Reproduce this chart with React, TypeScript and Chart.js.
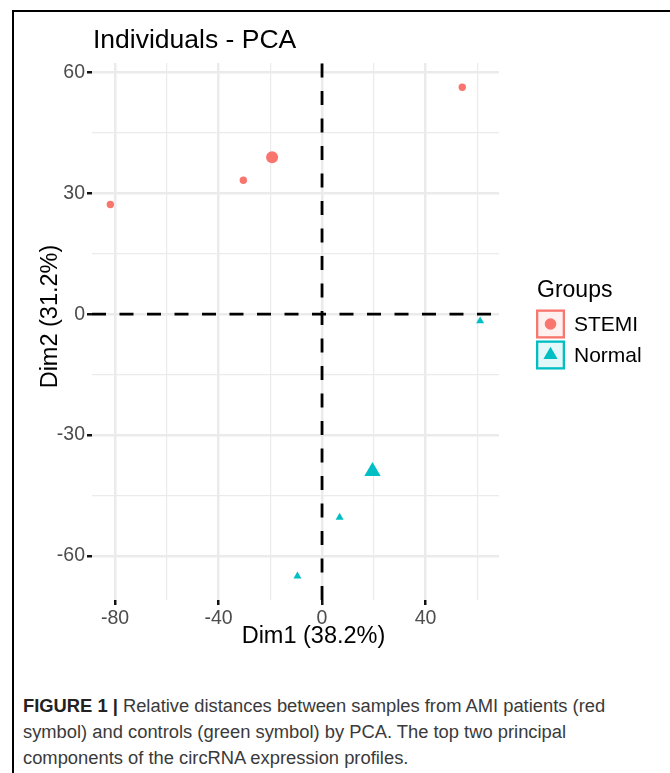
import React, { useEffect, useRef } from 'react';
import { Chart, registerables } from 'chart.js';

Chart.register(...registerables);

// ---- data ----
const groupNames = ['STEMI', 'Normal'];
const groupColors = ['#F8766D', '#00BFC4'];
const groupShapes = ['circle', 'triangle'];

const stemiDim1 = [-81.8, -30.4, 54.2];
const stemiDim2 = [27.2, 33.2, 56.3];
const normalDim1 = [61.1, 6.8, -9.5];
const normalDim2 = [-1.7, -50.4, -65.0];
// group centroids (mean points)
const meanDim1 = [-19.3, 19.5];
const meanDim2 = [38.9, -39.0];

const xMajorTicks = [-80, -40, 0, 40];
const xMinorTicks = [-60, -20, 20, 60];
const yMajorTicks = [-60, -30, 0, 30, 60];
const yMinorTicks = [-45, -15, 15, 45];
const xRange = [-88.9, 68.4];
const yRange = [-70.9, 62.3];
const refLineValue = 0;

const chartTitle = 'Individuals - PCA';
const xTitle = 'Dim1 (38.2%)';
const yTitle = 'Dim2 (31.2%)';
const legendTitle = 'Groups';

const FONT = '"Liberation Sans", Arial, Helvetica, sans-serif';

function hexAlpha(hex: string, a: number) {
  const r = parseInt(hex.slice(1, 3), 16);
  const g = parseInt(hex.slice(3, 5), 16);
  const b = parseInt(hex.slice(5, 7), 16);
  return `rgba(${r},${g},${b},${a})`;
}

const decorPlugin = {
  id: 'ggDecor',
  afterDraw(chart: any) {
    const { ctx, chartArea } = chart;
    ctx.save();
    // title
    ctx.fillStyle = '#000';
    ctx.textAlign = 'left';
    ctx.textBaseline = 'alphabetic';
    ctx.font = `26.5px ${FONT}`;
    ctx.fillText(chartTitle, chartArea.left + 1, chartArea.top - 15.5);

    // x title
    ctx.font = `23.5px ${FONT}`;
    ctx.textAlign = 'center';
    ctx.fillText(xTitle, 313.5, 643);

    // y title
    ctx.save();
    ctx.translate(56.5, 316.5);
    ctx.rotate(-Math.PI / 2);
    ctx.textAlign = 'center';
    ctx.fillText(yTitle, 0, 0);
    ctx.restore();

    // legend
    ctx.textAlign = 'left';
    ctx.font = `23px ${FONT}`;
    ctx.fillText(legendTitle, 537, 297);
    groupNames.forEach((name, i) => {
      const bx = 536;
      const by = 309.5 + i * 31;
      const size = 29;
      const col = groupColors[i];
      ctx.fillStyle = hexAlpha(col, 0.1);
      ctx.fillRect(bx, by, size, size);
      ctx.strokeStyle = col;
      ctx.lineWidth = 2.3;
      ctx.strokeRect(bx + 1.15, by + 1.15, size - 2.3, size - 2.3);
      const cx = bx + size / 2;
      const cy = by + size / 2;
      ctx.fillStyle = col;
      ctx.beginPath();
      if (groupShapes[i] === 'circle') {
        ctx.arc(cx, cy, 5.8, 0, Math.PI * 2);
      } else {
        const r = 8.2;
        ctx.moveTo(cx, cy - r);
        ctx.lineTo(cx + r * Math.sin(Math.PI * 2 / 3), cy + r / 2);
        ctx.lineTo(cx - r * Math.sin(Math.PI * 2 / 3), cy + r / 2);
        ctx.closePath();
      }
      ctx.fill();
      ctx.fillStyle = '#000';
      ctx.font = `21px ${FONT}`;
      ctx.fillText(name, 574, by + 21);
    });
    ctx.restore();
  },
};

function makeTicks(major: number[], minor: number[]) {
  return [...major, ...minor].sort((a, b) => a - b).map((v) => ({ value: v }));
}

export default function App() {
  const ref = useRef<HTMLCanvasElement>(null);

  useEffect(() => {
    const pts = (xs: number[], ys: number[]) => xs.map((x, i) => ({ x, y: ys[i] }));
    const chart = new Chart(ref.current as HTMLCanvasElement, {
      type: 'scatter',
      data: {
        datasets: [
          {
            label: 'zero-h',
            data: [{ x: xRange[0], y: refLineValue }, { x: xRange[1], y: refLineValue }],
            showLine: true,
            borderColor: '#000',
            borderWidth: 2.8,
            borderDash: [14, 13.5],
            borderCapStyle: 'butt',
            pointRadius: 0,
            order: 3,
          },
          {
            label: 'zero-v',
            data: [{ x: refLineValue, y: yRange[0] }, { x: refLineValue, y: yRange[1] }],
            showLine: true,
            borderColor: '#000',
            borderWidth: 2.8,
            borderDash: [14, 13.5],
            borderCapStyle: 'butt',
            pointRadius: 0,
            order: 3,
          },
          {
            label: groupNames[0],
            data: pts(stemiDim1, stemiDim2),
            pointStyle: groupShapes[0],
            pointRadius: 3.7,
            backgroundColor: groupColors[0],
            borderColor: groupColors[0],
            borderWidth: 0,
            order: 1,
          },
          {
            label: groupNames[0] + ' mean',
            data: [{ x: meanDim1[0], y: meanDim2[0] }],
            pointStyle: groupShapes[0],
            pointRadius: 6,
            backgroundColor: groupColors[0],
            borderColor: groupColors[0],
            borderWidth: 0,
            order: 1,
          },
          {
            label: groupNames[1],
            data: pts(normalDim1, normalDim2),
            pointStyle: groupShapes[1],
            pointRadius: 4.6,
            backgroundColor: groupColors[1],
            borderColor: groupColors[1],
            borderWidth: 0,
            order: 1,
          },
          {
            label: groupNames[1] + ' mean',
            data: [{ x: meanDim1[1], y: meanDim2[1] }],
            pointStyle: groupShapes[1],
            pointRadius: 9.4,
            backgroundColor: groupColors[1],
            borderColor: groupColors[1],
            borderWidth: 0,
            order: 1,
          },
        ] as any,
      },
      options: {
        animation: false,
        responsive: false,
        devicePixelRatio: 1,
        events: [],
        layout: { padding: { left: 0, top: 63, right: 171, bottom: 40 } },
        plugins: {
          legend: { display: false },
          title: { display: false },
          tooltip: { enabled: false },
        },
        scales: {
          x: {
            type: 'linear',
            min: xRange[0],
            max: xRange[1],
            afterBuildTicks: (s: any) => {
              s.ticks = makeTicks(xMajorTicks, xMinorTicks);
            },
            afterFit: (s: any) => {
              s.height = 40;
            },
            border: { display: false },
            grid: {
              color: '#EBEBEB',
              lineWidth: (c: any) => (xMajorTicks.includes(c.tick?.value) ? 2.5 : 1.2),
              tickColor: (c: any) => (xMajorTicks.includes(c.tick?.value) ? '#111' : 'rgba(0,0,0,0)'),
              tickWidth: 2.5,
              tickLength: 5,
            },
            ticks: {
              autoSkip: false,
              maxRotation: 0,
              padding: 2,
              color: '#4D4D4D',
              font: { family: FONT, size: 19.5 },
              callback: (v: any) => (xMajorTicks.includes(Number(v)) ? String(v) : ''),
            },
          },
          y: {
            type: 'linear',
            min: yRange[0],
            max: yRange[1],
            afterBuildTicks: (s: any) => {
              s.ticks = makeTicks(yMajorTicks, yMinorTicks);
            },
            afterFit: (s: any) => {
              s.width = 92;
            },
            border: { display: false },
            grid: {
              color: '#EBEBEB',
              lineWidth: (c: any) => (yMajorTicks.includes(c.tick?.value) ? 2.5 : 1.2),
              tickColor: (c: any) => (yMajorTicks.includes(c.tick?.value) ? '#111' : 'rgba(0,0,0,0)'),
              tickWidth: 2.5,
              tickLength: 5,
            },
            ticks: {
              autoSkip: false,
              padding: 2,
              color: '#4D4D4D',
              font: { family: FONT, size: 19.5 },
              callback: (v: any) => (yMajorTicks.includes(Number(v)) ? String(v) : ''),
            },
          },
        },
      } as any,
      plugins: [decorPlugin],
    });
    return () => chart.destroy();
  }, []);

  return (
    <div
      style={{
        position: 'absolute',
        left: 0,
        top: 0,
        width: 670,
        height: 773,
        background: '#fff',
        overflow: 'hidden',
      }}
    >
      <div
        style={{
          position: 'absolute',
          left: 12,
          top: 10,
          width: 700,
          height: 800,
          borderTop: '2px solid #000',
          borderLeft: '2px solid #000',
        }}
      />
      <canvas
        ref={ref}
        width={670}
        height={680}
        style={{ position: 'absolute', left: 0, top: 0, width: 670, height: 680 }}
      />
      <div
        style={{
          position: 'absolute',
          left: 23,
          top: 693,
          fontFamily: FONT,
          fontSize: 18.35,
          lineHeight: '26px',
          color: '#3a3a3a',
          whiteSpace: 'nowrap',
        }}
      >
        <div>
          <b style={{ color: '#222' }}>FIGURE 1 |</b> Relative distances between samples from AMI patients (red
        </div>
        <div>symbol) and controls (green symbol) by PCA. The top two principal</div>
        <div>components of the circRNA expression profiles.</div>
      </div>
    </div>
  );
}
